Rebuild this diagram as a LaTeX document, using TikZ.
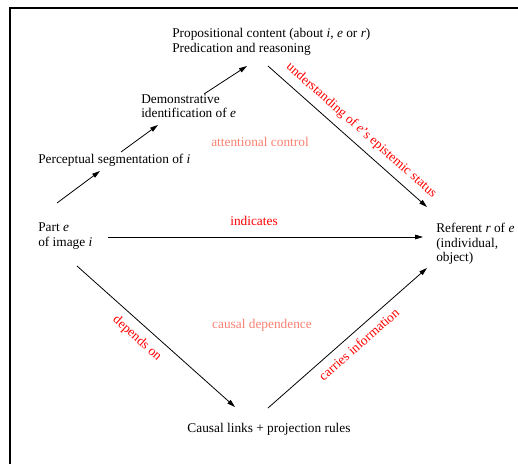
\documentclass[tikz,border=0pt]{standalone}
\usepackage{fontspec}
\setmainfont{Liberation Serif}
\usetikzlibrary{arrows.meta}
\definecolor{salmonish}{RGB}{250,128,114}
\tikzset{
  txt/.style={inner sep=0pt, align=left, font=\fontsize{10}{11}\selectfont},
  note/.style={inner sep=0pt, font=\fontsize{10}{11}\selectfont},
  arr/.style={-{Triangle[length=6pt,width=3.5pt]}, line width=0.6pt},
  lbl/.style={text=red, font=\fontsize{10}{11}\selectfont, sloped}
}
\begin{document}
\begin{tikzpicture}[x=0.75pt, y=-0.75pt]
            \useasboundingbox (0,0) rectangle (518,464);
            \draw[line width=1.7pt] (10,464) |- (518,8);

            \node[txt, anchor=north west] (prop) at (172,28) {Propositional content (about \textit{i}, \textit{e} or \textit{r})\\Predication and reasoning};
            \node[txt, anchor=north west] (demo) at (141,94) {Demonstrative\\identification of \textit{e}};
            \node[txt, anchor=base west] (percept) at (38,163) {Perceptual segmentation of \textit{i}};
            \node[txt, anchor=north west] (part) at (38,223) {Part \textit{e}\\of image \textit{i}};
            \node[txt, anchor=north west] (ref) at (436,223) {Referent \textit{r} of \textit{e}\\(individual,\\object)};
            \node[txt, anchor=base] (causal) at (269,432) {Causal links + projection rules};

            \node[note, anchor=base, text=salmonish] (attn) at (260,146) {attentional control};
            \node[note, anchor=base, text=red] (ind) at (254,225) {indicates};
            \node[note, anchor=base, text=salmonish] (cdep) at (262,328) {causal dependence};

            \draw[arr] ([shift={(19,-20)}]part.north west) -- ([shift={(62,8)}]percept.base west);
            \draw[arr] ([shift={(83,-11)}]percept.base west) -- ([shift={(17,31)}]demo.north west);
            \draw[arr] ([shift={(63,0)}]demo.north west) -- ([shift={(75,38)}]prop.north west);
            \draw[arr] ([shift={(96,38)}]prop.north west) -- node[lbl, pos=.53, above=2pt] {understanding of \textit{e}'s epistemic status} ([shift={(-9,-16)}]ref.north west);
            \draw[arr] ([shift={(70,14)}]part.north west) -- ([shift={(-13,14)}]ref.north west);
            \draw[arr] ([shift={(39,43)}]part.north west) -- node[lbl, pos=.44, below=2.5pt] {depends on} ([shift={(-34,-25)}]causal.base);
            \draw[arr] ([shift={(-1,-24)}]causal.base) -- node[lbl, pos=.52, below=2pt] {carries information} ([shift={(-9,45)}]ref.north west);
\end{tikzpicture}
\end{document}
